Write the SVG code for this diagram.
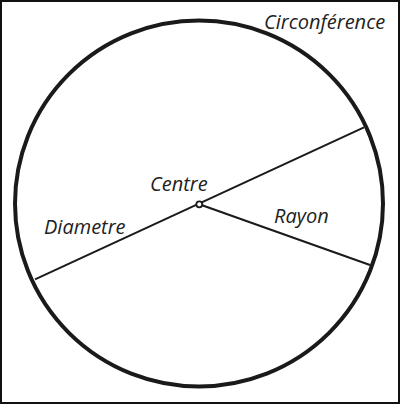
<svg xmlns="http://www.w3.org/2000/svg" width="400" height="404" viewBox="0 0 400 404">
<style>
.lbl{font-family:"Open Sans","Noto Sans","DejaVu Sans",sans-serif;font-style:italic;font-size:20px;fill:#222}
.ln{stroke:#1a1a1a;stroke-width:2;fill:none}
</style>
<rect x="0" y="0" width="400" height="404" fill="#fff"/>
<rect x="1" y="1" width="398" height="402" fill="none" stroke="#111" stroke-width="2"/>
<g id="circle">
<ellipse cx="199" cy="203.5" rx="184" ry="183" fill="none" stroke="#1a1a1a" stroke-width="4"/>
</g>
<g id="connectors">
<line class="ln" x1="35" y1="279.3" x2="364" y2="127.3"/>
<line class="ln" x1="199.3" y1="204.3" x2="370" y2="265"/>
</g>
<g id="centre">
<circle cx="199.3" cy="204.3" r="3" fill="#fff" stroke="#1a1a1a" stroke-width="1.8"/>
</g>
<g id="labels">
<text class="lbl" x="264" y="29">Circonférence</text>
<text class="lbl" x="150" y="191">Centre</text>
<text class="lbl" x="44" y="234">Diametre</text>
<text class="lbl" x="274" y="223">Rayon</text>
</g>
</svg>
